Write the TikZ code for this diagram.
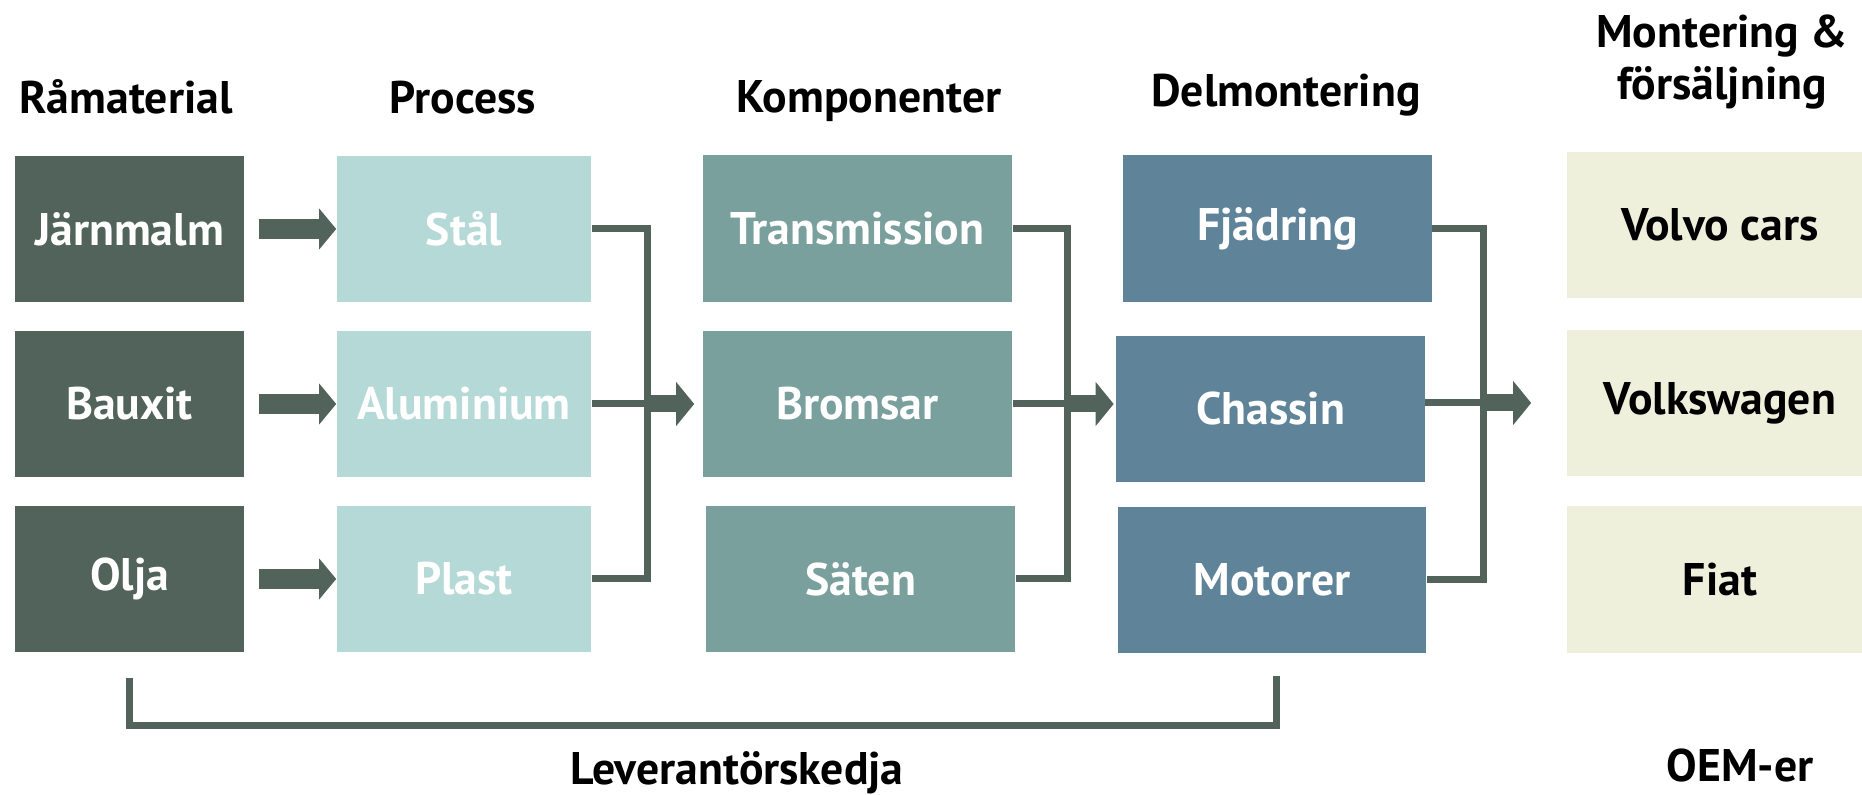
\documentclass[tikz,border=0pt]{standalone}
\usepackage{fontspec}
\setmainfont{PT Sans}
\usepackage{tikz}
\usetikzlibrary{arrows.meta}

\definecolor{rawc}{RGB}{81,99,91}
\definecolor{procc}{RGB}{181,217,215}
\definecolor{kompc}{RGB}{122,160,157}
\definecolor{delc}{RGB}{95,131,153}
\definecolor{oemc}{RGB}{239,240,220}

\begin{document}
\begin{tikzpicture}[x=0.01cm, y=-0.01cm,
    txt/.style={font=\fontsize{13}{15}\selectfont\bfseries},
    box/.style={txt, inner sep=0pt, text=white, minimum height=1.46cm},
    rawbox/.style={box, fill=rawc, minimum width=2.29cm},
    procbox/.style={box, fill=procc, minimum width=2.54cm},
    kompbox/.style={box, fill=kompc, minimum width=3.09cm},
    delbox/.style={box, fill=delc, minimum width=3.08cm},
    oembox/.style={box, fill=oemc, text=black, minimum width=3.06cm},
    hdr/.style={txt, anchor=base},
    link/.style={draw=rawc, line width=0.07cm},
    feed/.style={draw=rawc, line width=0.2cm, -{Triangle[length=0.17cm, width=0.4cm]}},
    merge/.style={draw=rawc, line width=0.17cm, -{Triangle[length=0.18cm, width=0.43cm]}}]

      \useasboundingbox (0,0) rectangle (1862,795);

      \node[hdr] (hraw) at (126,114) {Råmaterial};
      \node[hdr] (hproc) at (463,114) {Process};
      \node[hdr] (hkomp) at (869,113) {Komponenter};
      \node[hdr] (hdel) at (1286,107) {Delmontering};
      \node[hdr, align=center] (hoem) at (1722,100) {Montering \&\\försäljning};

      \node[rawbox] (jarn) at (129.5,229) {Järnmalm};
      \node[rawbox] (baux) at (129.5,404) {Bauxit};
      \node[rawbox] (olja) at (129.5,579) {Olja};

      \node[procbox] (stal) at (464,229) {Stål};
      \node[procbox] (alu) at (464,404) {Aluminium};
      \node[procbox] (plast) at (464,579) {Plast};

      \node[kompbox] (trans) at (857.5,228.5) {Transmission};
      \node[kompbox] (broms) at (857.5,404) {Bromsar};
      \node[kompbox] (saten) at (860.5,579) {Säten};

      \node[delbox] (fjad) at (1277.5,228.5) {Fjädring};
      \node[delbox] (chas) at (1270.5,409) {Chassin};
      \node[delbox] (motor) at (1272,580) {Motorer};

      \node[oembox] (volvo) at (1720,225) {Volvo cars};
      \node[oembox] (vw) at (1720,403) {Volkswagen};
      \node[oembox] (fiat) at (1720,579.5) {Fiat};

      \node[hdr] (lev) at (737,785) {Leverantörskedja};
      \node[hdr] (oem) at (1740,782) {OEM-er};

      \draw[feed] ([xshift=0.14cm]jarn.east) -- (stal.west);
      \draw[feed] ([xshift=0.14cm]baux.east) -- (alu.west);
      \draw[feed] ([xshift=0.14cm]olja.east) -- (plast.west);

      \coordinate (m1) at (647,404);
      \draw[link] (stal.east) -| (m1) |- (plast.east);
      \draw[link] (alu.east) -- (m1);
      \draw[merge] (m1) -- ([xshift=-0.08cm]broms.west);

      \coordinate (m2) at (1067,404);
      \draw[link] (trans.east) -| (m2) |- (saten.east);
      \draw[link] (broms.east) -- (m2);
      \draw[merge] (m2) -- ([xshift=-0.02cm]chas.west |- m2);

      \coordinate (m3) at (1483,403);
      \draw[link] (fjad.east) -| (m3) |- (motor.east);
      \draw[link] (chas.east |- m3) -- (m3);
      \draw[merge] (m3) -- ([xshift=-0.35cm]vw.west);

      \coordinate (l1) at (129.5,678);
      \coordinate (l2) at (1276,676);
      \draw[link] (l1) -- ++(0,48) -| (l2);
\end{tikzpicture}
\end{document}
